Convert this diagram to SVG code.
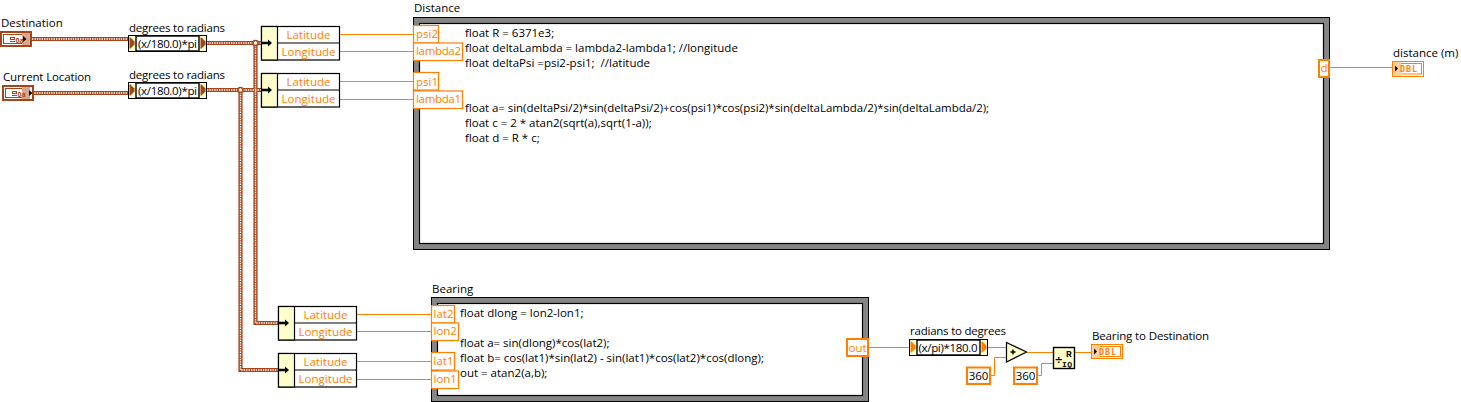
<svg xmlns="http://www.w3.org/2000/svg" width="1461" height="402" viewBox="0 0 1461 402">
<style>
text{font-family:"Open Sans","Noto Sans","Liberation Sans",sans-serif;font-size:11.5px;fill:#000}
.o{fill:#ff7f00}
.m{text-anchor:middle}
.wo{fill:none;stroke:#ff8000;stroke-width:1}
.wa{fill:none;stroke:#a5461a;stroke-width:4.2}
.wb{fill:none;stroke:#fff;stroke-width:1.4;stroke-dasharray:1.4 1}
.ow{fill:#fff;stroke:#ff8000;stroke-width:1.2}
.ow2{fill:#fff;stroke:#ff8000;stroke-width:2}
.b{fill:#fff;stroke:#000;stroke-width:1.2}
.y{fill:#ffffcc;stroke:#000;stroke-width:1.2}
.frame{fill:#858585;stroke:#000;stroke-width:1}
.in{fill:#fff;stroke:#000;stroke-width:1.2}
.icon{fill:#a5461a;font-size:8px;font-weight:bold}
.dbl{font:bold 8.5px 'DejaVu Sans Mono',monospace;fill:#ff7f00}
</style>
<defs>
<g id="bundle">
<rect class="b" x="0.5" y="0.5" width="78" height="33.500"/>
<rect class="y" x="0.5" y="0.5" width="16" height="33.500"/>
<path d="M17 17H78" stroke="#000" stroke-width="1.2" fill="none"/>
<text class="o m" x="47.5" y="13">Latitude</text>
<text class="o m" x="47.5" y="30" textLength="54">Longitude</text>
</g>
<g id="formula">
<rect x="0.5" y="0.5" width="78" height="16" fill="#ffffcc" stroke="#000" stroke-width="1"/>
<rect x="8" y="1" width="63" height="15" fill="#fff" stroke="#000" stroke-width="1.4"/>
</g>
<path id="arrow" d="M0 -1.300H7V-3.500L11 0L7 3.500V1.300H0Z" fill="#000"/>
<path id="tipb" d="M0 -5.500L1 -5.500L5 -1.500V1.500L1 5.500H0Z" fill="#a5461a"/>
<path id="tipo" d="M0 -5.500L1 -5.500L5 -1.500V1.500L1 5.500H0Z" fill="#ff8000"/>
</defs>

<g id="connectors">
<path class="wa" d="M32 39H128M32 93H128M207 43H261M255.500 43V323H278M240.500 90V370H278M207 90H261"/>
<path class="wb" d="M32 39H128M32 93H128M207 43H261M255.500 43V323H278M240.500 90V370H278M207 90H261"/>
<circle cx="255.500" cy="43" r="2.500" fill="#fff" stroke="#a5461a" stroke-width="1.500"/>
<circle cx="240.500" cy="90" r="2.500" fill="#fff" stroke="#a5461a" stroke-width="1.500"/>
<path class="wo" d="M339 34.500H414M339 51.500H414M339 81.500H414M339 99.500H414M356 314.500H432M356 331.500H432M356 361.500H432M356 379.500H432M1329 67.500H1393M868 347.500H910M987 347.500H1006M1027 352.500H1053M1075 352.500H1091M990 375.500H994.500V357.500H1006M1037 375.500H1041.500V363.500H1053"/>
</g>

<g id="destination">
<text x="1" y="27">Destination</text>
<rect x="1" y="32" width="30" height="14" fill="#fff" stroke="#a5461a" stroke-width="2"/>
<rect x="3.500" y="34.500" width="20" height="9" fill="#fff" stroke="#a5461a"/>
<rect x="22" y="33" width="8" height="12" fill="#d9a78c"/>
<path d="M23 36L26.500 39L23 42Z" fill="#000"/>
<rect x="10.500" y="37.500" width="4" height="2" fill="none" stroke="#a5461a"/>
<path d="M10 41.500H15" stroke="#a5461a"/>
<text class="icon" x="15.500" y="42.500" style="font-size:7px">0a</text>
</g>
<g id="current-location">
<text x="3" y="81" textLength="88">Current Location</text>
<rect x="3" y="86" width="30" height="14" fill="#fff" stroke="#a5461a" stroke-width="2"/>
<rect x="5.500" y="88.500" width="20" height="9" fill="#fff" stroke="#a5461a"/>
<rect x="22" y="87" width="8" height="12" fill="#d9a78c"/>
<path d="M29 90L32.500 93L29 96Z" fill="#000"/>
<rect x="12.500" y="91.500" width="4" height="2" fill="none" stroke="#a5461a"/>
<path d="M12 95.500H17" stroke="#a5461a"/>
<text class="icon" x="17.500" y="96.500" style="font-size:7px">0a</text>
</g>

<g id="deg2rad1">
<text x="129" y="32" textLength="96">degrees to radians</text>
<use href="#formula" x="128" y="35"/>
<text x="138" y="48" textLength="59">(x/180.0)*pi</text>
<use href="#tipb" x="129.500" y="43"/><use href="#tipb" x="200.500" y="43"/>
</g>
<g id="deg2rad2">
<text x="129" y="79" textLength="96">degrees to radians</text>
<use href="#formula" x="128" y="82"/>
<text x="138" y="95" textLength="59">(x/180.0)*pi</text>
<use href="#tipb" x="129.500" y="90"/><use href="#tipb" x="200.500" y="90"/>
</g>

<g id="bundle1"><use href="#bundle" x="261" y="26"/><use href="#arrow" x="261" y="43"/></g>
<g id="bundle2"><use href="#bundle" x="261" y="73"/><use href="#arrow" x="261" y="90"/></g>
<g id="bundle3"><use href="#bundle" x="278" y="306"/><use href="#arrow" x="278" y="323"/></g>
<g id="bundle4"><use href="#bundle" x="278" y="353"/><use href="#arrow" x="278" y="370"/></g>

<g id="distance">
<text x="414" y="12">Distance</text>
<rect class="frame" x="413.500" y="17.500" width="916" height="232"/>
<rect class="in" x="419.500" y="23.500" width="904" height="220"/>
<text x="465" y="36.500">float R = 6371e3;</text>
<text x="465" y="51.500">float deltaLambda = lambda2-lambda1; //longitude</text>
<text x="465" y="66.500">float deltaPsi =psi2-psi1;&#160; //latitude</text>
<text x="465" y="112" textLength="524">float a= sin(deltaPsi/2)*sin(deltaPsi/2)+cos(psi1)*cos(psi2)*sin(deltaLambda/2)*sin(deltaLambda/2);</text>
<text x="465" y="127">float c = 2 * atan2(sqrt(a),sqrt(1-a));</text>
<text x="465" y="142">float d = R * c;</text>
<rect class="ow" x="413.500" y="25.500" width="25" height="17.500"/><text class="o" x="416" y="38">psi2</text>
<rect class="ow" x="413.500" y="43" width="49" height="17.500"/><text class="o" x="416" y="55" textLength="45">lambda2</text>
<rect class="ow" x="413.500" y="72.500" width="25" height="17.500"/><text class="o" x="416" y="86">psi1</text>
<rect class="ow" x="413.500" y="91" width="49" height="17.500"/><text class="o" x="416" y="103" textLength="45">lambda1</text>
<rect class="ow2" x="1319" y="60" width="10" height="17"/><text class="o" x="1320.500" y="72">d</text>
</g>

<g id="bearing">
<text x="432" y="293">Bearing</text>
<rect class="frame" x="431.500" y="297.500" width="437" height="104"/>
<rect class="in" x="437.500" y="303.500" width="425" height="92"/>
<text x="460" y="317">float dlong = lon2-lon1;</text>
<text x="460" y="347">float a= sin(dlong)*cos(lat2);</text>
<text x="460" y="362">float b= cos(lat1)*sin(lat2) - sin(lat1)*cos(lat2)*cos(dlong);</text>
<text x="460" y="377">out = atan2(a,b);</text>
<rect class="ow" x="431.500" y="305.500" width="23" height="17.500"/><text class="o" x="433.500" y="318">lat2</text>
<rect class="ow" x="431.500" y="323" width="27" height="17.500"/><text class="o" x="433.500" y="335">lon2</text>
<rect class="ow" x="431.500" y="352.500" width="23" height="17.500"/><text class="o" x="433.500" y="365">lat1</text>
<rect class="ow" x="431.500" y="371" width="27" height="17.500"/><text class="o" x="433.500" y="383">lon1</text>
<rect class="ow2" x="847" y="339" width="21" height="17"/><text class="o" x="848.500" y="352">out</text>
</g>

<g id="rad2deg">
<text x="910" y="335" textLength="96">radians to degrees</text>
<use href="#formula" x="909" y="339"/>
<text x="918.500" y="352" textLength="59">(x/pi)*180.0</text>
<use href="#tipo" x="910.500" y="347"/><use href="#tipo" x="981.500" y="347"/>
</g>
<g id="add">
<path d="M1006.500 342.500L1026.500 352L1006.500 362Z" fill="#ffffcc" stroke="#000" stroke-width="1.200"/>
<path d="M1010.500 352H1015.500M1013 349.500V354.500" stroke="#000" stroke-width="1.500" fill="none"/>
</g>
<g id="c360a"><rect class="ow2" x="967" y="367.500" width="23" height="16.500"/><text class="m" x="978.500" y="380">360</text></g>
<g id="c360b"><rect class="ow2" x="1014" y="367.500" width="23" height="16.500"/><text class="m" x="1025.500" y="380">360</text></g>
<g id="quotient">
<rect x="1053.500" y="347.500" width="21" height="21" fill="#ffffcc" stroke="#000" stroke-width="1.400"/>
<text x="1066" y="357" style="font:bold 9.500px 'Liberation Mono',monospace">R</text>
<text x="1062" y="366.500" style="font:bold 8px 'Liberation Mono',monospace" textLength="10">IQ</text>
<text x="1054.500" y="362.500" style="font:bold 10px 'DejaVu Sans',sans-serif" textLength="7">÷</text>
</g>
<g id="bearing-dest">
<text x="1092" y="340" textLength="117">Bearing to Destination</text>
<rect x="1091.500" y="344.500" width="31" height="14" fill="#fff" stroke="#ff8000"/>
<rect x="1093.500" y="346.500" width="27" height="10" fill="none" stroke="#ff8000"/>
<rect x="1092" y="345" width="8" height="13" fill="#ffcfa0"/>
<path d="M1094 348.500L1097 351.500L1094 354.500Z" fill="#000"/>
<text class="dbl" x="1099" y="355" textLength="17">DBL</text>
</g>
<g id="distance-m">
<text x="1393" y="57">distance (m)</text>
<rect x="1392.500" y="61.500" width="31" height="15" fill="#fff" stroke="#ff8000"/>
<rect x="1394.500" y="63.500" width="27" height="10.500" fill="none" stroke="#ff8000"/>
<rect x="1393" y="62" width="8" height="14" fill="#ffcfa0"/>
<path d="M1395 65.500L1398 68.500L1395 71.500Z" fill="#000"/>
<text class="dbl" x="1400" y="72" textLength="17">DBL</text>
</g>
</svg>
